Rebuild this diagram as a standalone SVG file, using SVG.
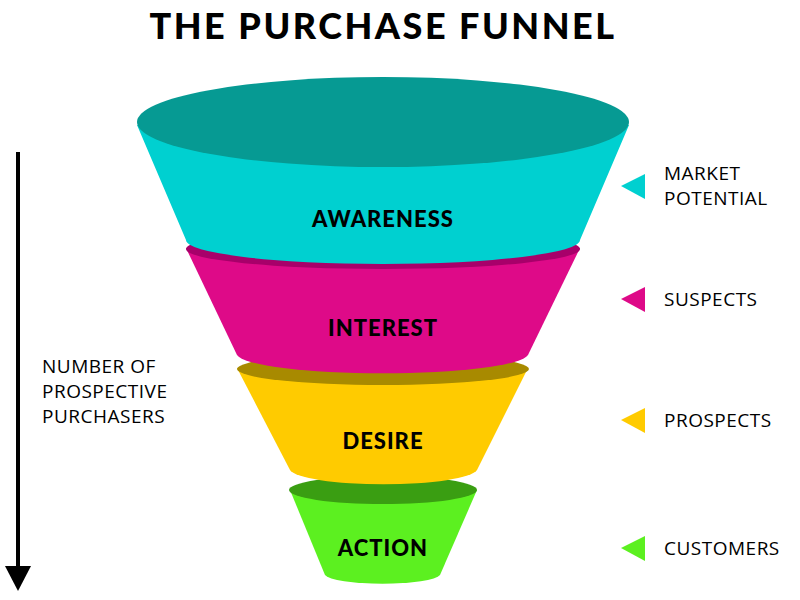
<svg xmlns="http://www.w3.org/2000/svg" width="800" height="600" viewBox="0 0 800 600">
<style>
.t{font-family:Lato,"Liberation Sans",sans-serif;font-weight:900;fill:#000;text-anchor:middle;letter-spacing:1px}
.r{font-family:"Open Sans","Liberation Sans",sans-serif;font-size:19px;fill:#000;letter-spacing:0.5px}
</style>
<rect width="800" height="600" fill="#fff"/>
<text class="t" x="383" y="39" font-size="36" style="letter-spacing:2.5px">THE PURCHASE FUNNEL</text>
<g id="action">
<path d="M290,490 L325,575 A58,10 0 0 0 440,575 L477,490 Z" fill="#5cf020"/>
<ellipse cx="383" cy="490" rx="94" ry="14" fill="#3a9e12"/>
<text class="t" x="383" y="556" font-size="22">ACTION</text>
</g>
<g id="desire">
<path d="M237,368 L290,470 A94,16 0 0 0 477,470 L528,368 Z" fill="#ffcb00"/>
<ellipse cx="383" cy="369" rx="146" ry="16" fill="#a88a00"/>
<text class="t" x="383" y="449" font-size="22">DESIRE</text>
</g>
<g id="interest">
<path d="M186,248 L237,355 A146,20 0 0 0 528,355 L580,248 Z" fill="#de0a88"/>
<ellipse cx="383" cy="249" rx="197" ry="20" fill="#a8006a"/>
<text class="t" x="383" y="336" font-size="22">INTEREST</text>
</g>
<g id="awareness">
<path d="M137,125 L186,240 A197,24 0 0 0 580,240 L629,125 Z" fill="#00d0d0"/>
<ellipse cx="383" cy="122" rx="246" ry="45" fill="#069a93"/>
<text class="t" x="383" y="227" font-size="22">AWARENESS</text>
</g>
<g id="connectors">
<line x1="18" y1="152" x2="18" y2="570" stroke="#000" stroke-width="4"/>
<polygon points="5,566 31,566 18,591" fill="#000"/>
</g>
<g id="left-label">
<text class="r" x="42" y="373">NUMBER OF</text>
<text class="r" x="42" y="398">PROSPECTIVE</text>
<text class="r" x="42" y="423">PURCHASERS</text>
</g>
<g id="market"><polygon points="621,186 645,174 645,199" fill="#00d0d0"/><text class="r" x="664" y="180">MARKET</text><text class="r" x="664" y="205">POTENTIAL</text></g>
<g id="suspects"><polygon points="621,299 645,287 645,312" fill="#de0a88"/><text class="r" x="664" y="306">SUSPECTS</text></g>
<g id="prospects"><polygon points="621,420 645,408 645,433" fill="#ffcb00"/><text class="r" x="664" y="427">PROSPECTS</text></g>
<g id="customers"><polygon points="621,548 645,536 645,561" fill="#5cf020"/><text class="r" x="664" y="555">CUSTOMERS</text></g>
</svg>
